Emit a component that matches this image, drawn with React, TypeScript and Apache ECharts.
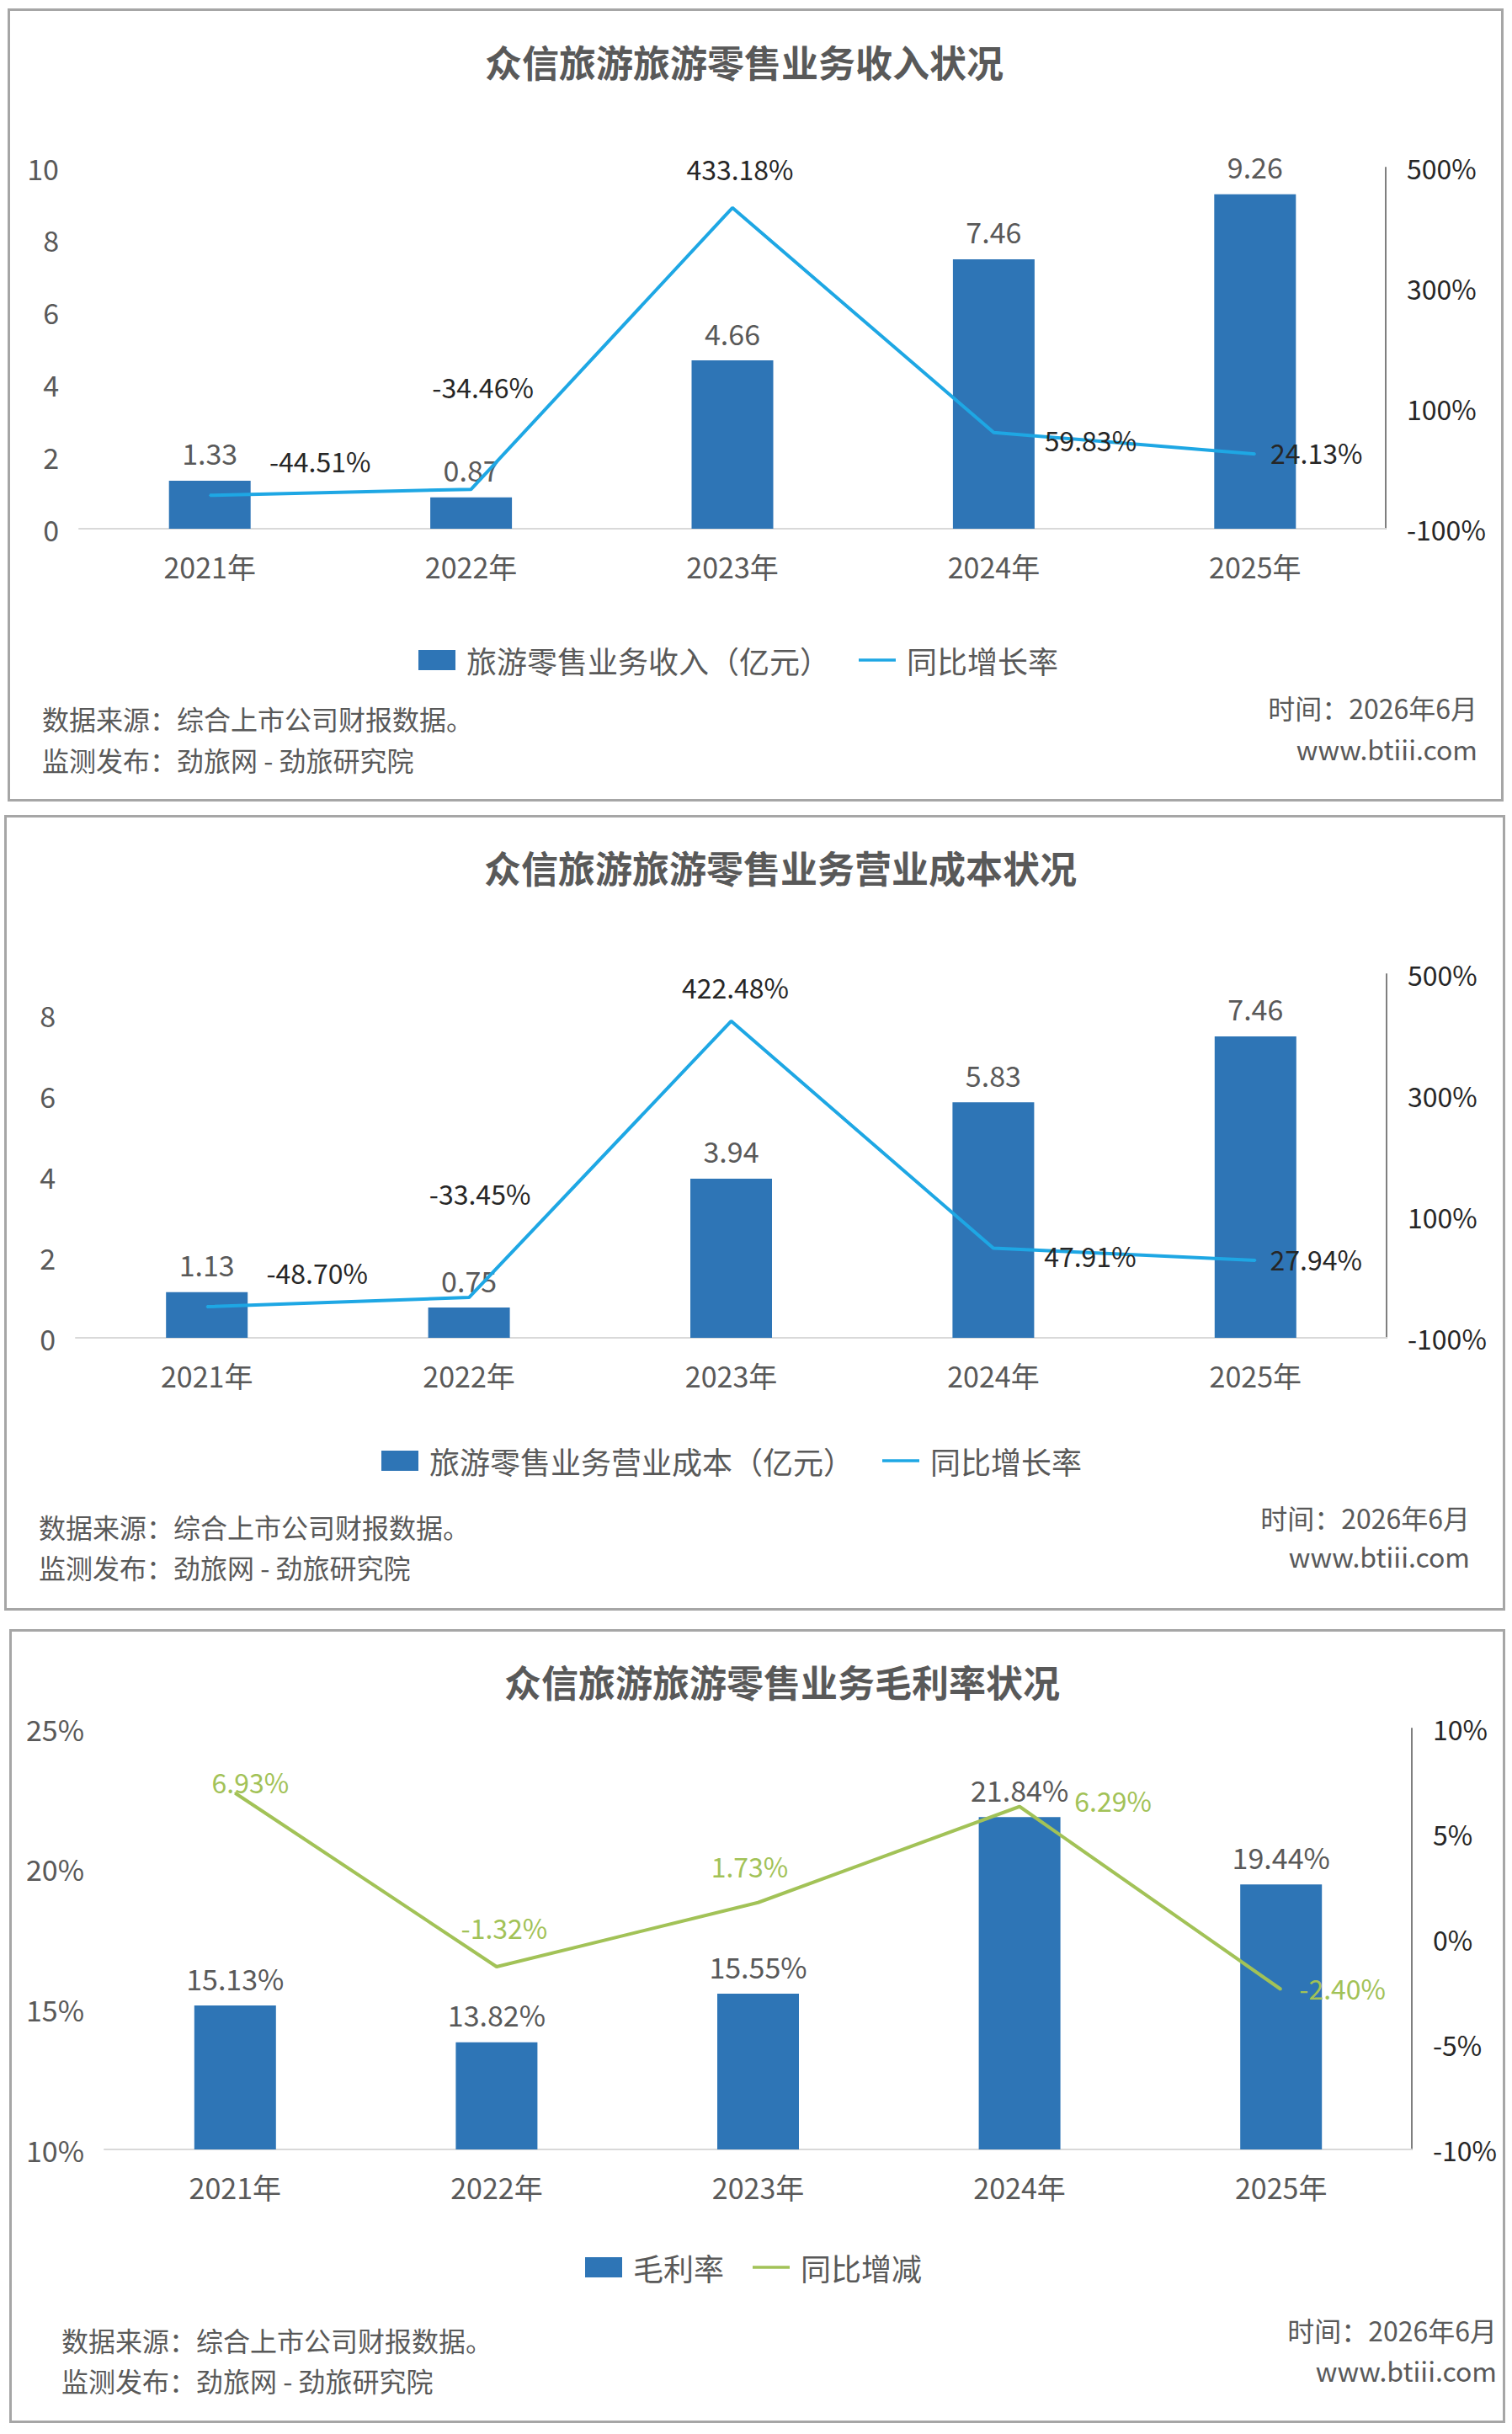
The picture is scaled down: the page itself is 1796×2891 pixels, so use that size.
import { useEffect, useRef } from 'react';
import * as echarts from 'echarts';

// 年份
const years = ['2021年', '2022年', '2023年', '2024年', '2025年'];

// 收入（亿元）及同比
const revenue = [1.33, 0.87, 4.66, 7.46, 9.26];
const revenueGrowth = [-44.51, -34.46, 433.18, 59.83, 24.13];

// 营业成本（亿元）及同比
const cost = [1.13, 0.75, 3.94, 5.83, 7.46];
const costGrowth = [-48.7, -33.45, 422.48, 47.91, 27.94];

// 毛利率及同比增减（%）
const grossMargin = [15.13, 13.82, 15.55, 21.84, 19.44];
const marginChange = [6.93, -1.32, 1.73, 6.29, -2.4];

// 坐标轴刻度
const revenueTicks = [0, 2, 4, 6, 8, 10];
const costTicks = [0, 2, 4, 6, 8];
const growthTicks = [-100, 100, 300, 500];
const marginTicks = [10, 15, 20, 25];
const changeTicks = [-10, -5, 0, 5, 10];

const FONT = "'Noto Sans CJK SC', 'Microsoft YaHei', sans-serif";
const NARROW = "'Liberation Sans Narrow', 'Noto Sans CJK SC', sans-serif";
const GRAY = '#595959';
const BAR = '#2e75b6';

// 折线标签相对数据点的偏移
const offsets1 = [[131, -41], [14, -122], [9, -47], [115, 8], [73, -2]];
const offsets2 = [[131, -41], [13, -124], [5, -41], [115, 8], [72, -2]];
const offsets3 = [[18, -14], [9, -47], [-10, -44], [111, -8], [73, -2]];

type Cfg = {
  title: string;
  titleX: number;
  titleY: number;
  grid: { left: number; top: number; width: number; height: number };
  barName: string;
  bars: number[];
  lineName: string;
  line: number[];
  lineColor: string;
  lineLabelColor: string;
  offsets: number[][];
  left: { min: number; max: number; interval: number; ticks: number[]; pct: boolean };
  right: { min: number; max: number; interval: number; ticks: number[] };
  pctBars: boolean;
  legendLeft: number;
  legendTop: number;
  footLeft: number;
  footRight: number;
  footY: number[];
  footRY: number[];
};

function makeOption(c: Cfg): any {
  const t = (text: string, x: number, y: number, align: string, font: string, fill: string) => ({
    type: 'text',
    style: {
      text, x, y, font, fill,
      align, verticalAlign: 'middle',
      textAlign: align, textVerticalAlign: 'middle',
    },
  });
  return {
    animation: false,
    backgroundColor: '#fff',
    grid: c.grid,
    legend: {
      left: c.legendLeft,
      top: c.legendTop,
      itemWidth: 44,
      itemHeight: 24,
      itemGap: 34,
      textStyle: { fontSize: 36, color: GRAY, fontFamily: FONT, padding: [0, 0, 0, 8] },
      data: [
        { name: c.barName, icon: 'rect' },
        { name: c.lineName, icon: 'path://M0 0H48V4H0Z' },
      ],
    },
    graphic: [
      t(c.title, c.titleX, c.titleY, 'center', `bold 44px ${FONT}`, GRAY),
      t('数据来源：综合上市公司财报数据。', c.footLeft, c.footY[0], 'left', `32px ${FONT}`, GRAY),
      t('监测发布：劲旅网 - 劲旅研究院', c.footLeft, c.footY[1], 'left', `32px ${FONT}`, GRAY),
      t('时间：2026年6月', c.footRight, c.footRY[0], 'right', `32px ${FONT}`, GRAY),
      t('www.btiii.com', c.footRight, c.footRY[1], 'right', `32px ${FONT}`, GRAY),
    ],
    xAxis: {
      type: 'category',
      data: years,
      axisLine: { onZero: false, lineStyle: { color: '#d9d9d9', width: 2 } },
      axisTick: { show: false },
      axisLabel: { fontSize: 34, color: GRAY, fontFamily: FONT, margin: 27 },
    },
    yAxis: [
      {
        type: 'value',
        min: c.left.min,
        max: c.left.max,
        interval: c.left.interval,
        splitLine: { show: false },
        axisLine: { show: false },
        axisTick: { show: false },
        axisLabel: {
          fontSize: 34,
          color: GRAY,
          fontFamily: FONT,
          margin: 24,
          padding: [0, 0, 6, 0],
          formatter: (v: number) =>
            c.left.ticks.includes(v) ? `${v}${c.left.pct ? '%' : ''}` : '',
        },
      },
      {
        type: 'value',
        min: c.right.min,
        max: c.right.max,
        interval: c.right.interval,
        splitLine: { show: false },
        axisLine: { show: true, lineStyle: { color: '#7f7f7f', width: 2 } },
        axisTick: { show: false },
        axisLabel: {
          fontSize: 32,
          color: '#262626',
          fontFamily: NARROW,
          margin: 25,
          padding: [0, 0, 6, 0],
          formatter: (v: number) => (c.right.ticks.includes(v) ? `${v}%` : ''),
        },
      },
    ],
    series: [
      {
        name: c.barName,
        type: 'bar',
        data: c.bars,
        barWidth: 97,
        itemStyle: { color: BAR },
        label: {
          show: true,
          position: 'top',
          distance: 16,
          fontSize: 34,
          color: GRAY,
          fontFamily: FONT,
          formatter: (p: any) => p.value.toFixed(2) + (c.pctBars ? '%' : ''),
        },
      },
      {
        name: c.lineName,
        type: 'line',
        yAxisIndex: 1,
        data: c.line.map((v, i) => ({
          value: v,
          label: { offset: c.offsets[i] },
        })),
        symbol: 'circle',
        symbolSize: 2,
        showSymbol: true,
        lineStyle: { color: c.lineColor, width: 4 },
        itemStyle: { color: c.lineColor },
        label: {
          show: true,
          position: 'inside',
          fontSize: 32,
          color: c.lineLabelColor,
          fontFamily: NARROW,
          formatter: (p: any) => p.value.toFixed(2) + '%',
        },
      },
    ],
  };
}

function Chart({ option, box }: { option: any; box: { left: number; top: number; width: number; height: number } }) {
  const ref = useRef<HTMLDivElement>(null);
  useEffect(() => {
    if (!ref.current) return;
    const chart = echarts.init(ref.current, undefined, { renderer: 'svg' });
    chart.setOption(option);
    return () => chart.dispose();
  }, [option]);
  return (
    <div
      style={{
        position: 'absolute',
        left: box.left,
        top: box.top,
        width: box.width,
        height: box.height,
        border: '3px solid #a6a6a6',
        boxSizing: 'border-box',
        background: '#fff',
      }}
    >
      <div ref={ref} style={{ width: box.width - 6, height: box.height - 6 }} />
    </div>
  );
}

const option1 = makeOption({
  title: '众信旅游旅游零售业务收入状况',
  titleX: 872,
  titleY: 60,
  grid: { left: 82, top: 186, width: 1552, height: 429 },
  barName: '旅游零售业务收入（亿元）',
  bars: revenue,
  lineName: '同比增长率',
  line: revenueGrowth,
  lineColor: '#1ea7e4',
  lineLabelColor: '#262626',
  offsets: offsets1,
  left: { min: 0, max: 10, interval: 2, ticks: revenueTicks, pct: false },
  right: { min: -100, max: 500, interval: 100, ticks: growthTicks },
  pctBars: false,
  legendLeft: 480,
  legendTop: 748,
  footLeft: 38,
  footRight: 1743,
  footY: [840, 889],
  footRY: [827, 876],
});

const option2 = makeOption({
  title: '众信旅游旅游零售业务营业成本状况',
  titleX: 919,
  titleY: 59,
  grid: { left: 82, top: 186, width: 1557, height: 432 },
  barName: '旅游零售业务营业成本（亿元）',
  bars: cost,
  lineName: '同比增长率',
  line: costGrowth,
  lineColor: '#1ea7e4',
  lineLabelColor: '#262626',
  offsets: offsets2,
  left: { min: 0, max: 9, interval: 1, ticks: costTicks, pct: false },
  right: { min: -100, max: 500, interval: 100, ticks: growthTicks },
  pctBars: false,
  legendLeft: 440,
  legendTop: 741,
  footLeft: 38,
  footRight: 1738,
  footY: [842, 890],
  footRY: [831, 877],
});

const option3 = makeOption({
  title: '众信旅游旅游零售业务毛利率状况',
  titleX: 915,
  titleY: 59,
  grid: { left: 110, top: 115, width: 1553, height: 500 },
  barName: '毛利率',
  bars: grossMargin,
  lineName: '同比增减',
  line: marginChange,
  lineColor: '#a2c257',
  lineLabelColor: '#a2c257',
  offsets: offsets3,
  left: { min: 10, max: 25, interval: 5, ticks: marginTicks, pct: true },
  right: { min: -10, max: 10, interval: 5, ticks: changeTicks },
  pctBars: true,
  legendLeft: 676,
  legendTop: 732,
  footLeft: 59,
  footRight: 1764,
  footY: [841, 889],
  footRY: [829, 877],
});

export default function App() {
  return (
    <div style={{ position: 'absolute', left: 0, top: 0, width: 1796, height: 2891, background: '#fff' }}>
      <Chart option={option1} box={{ left: 9, top: 10, width: 1777, height: 942 }} />
      <Chart option={option2} box={{ left: 5, top: 968, width: 1783, height: 945 }} />
      <Chart option={option3} box={{ left: 11, top: 1935, width: 1777, height: 943 }} />
    </div>
  );
}
